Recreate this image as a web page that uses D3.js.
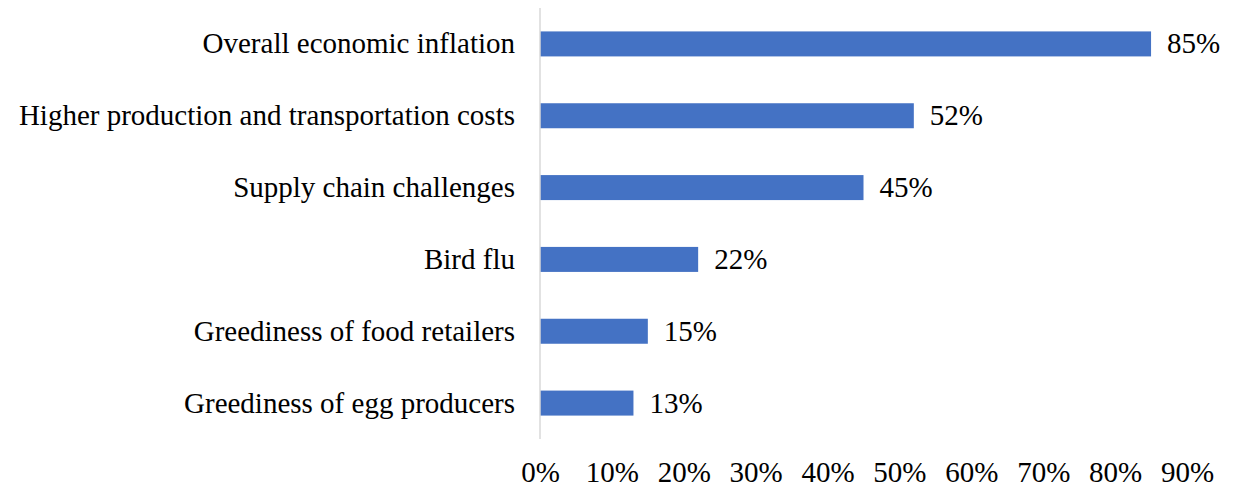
<!DOCTYPE html>
<html><head><meta charset="utf-8">
<script src="https://cdn.jsdelivr.net/npm/d3@7"></script>
<style>body{margin:0;background:#fff}svg{display:block}text{font-family:"Liberation Serif","Times New Roman",serif;fill:#000}</style>
</head><body><svg id="c" width="1233" height="486"></svg>
<script>
const categories = ["Overall economic inflation","Higher production and transportation costs","Supply chain challenges","Bird flu","Greediness of food retailers","Greediness of egg producers"];
const values = [0.85,0.52,0.45,0.22,0.15,0.13];
const ticks = [0,0.1,0.2,0.3,0.4,0.5,0.6,0.7,0.8,0.9];

const svg = d3.select("#c");
const x = d3.scaleLinear().domain([0,0.9]).range([540,1187]);
const y = d3.scaleBand().domain(categories).range([8,439]).paddingInner(0.652).paddingOuter(0.326);
const fmt = d3.format(".0%");
const FS = 29;

svg.selectAll("rect.bar").data(values).join("rect")
  .attr("x", x(0)).attr("y",(d,i)=>y(categories[i]))
  .attr("width", d=>x(d)-x(0)).attr("height", y.bandwidth())
  .attr("fill","#4472C4");

svg.append("line").attr("x1",x(0)).attr("x2",x(0)).attr("y1",8).attr("y2",439)
  .attr("stroke","#d9d9d9").attr("stroke-width",1.5);

svg.selectAll("text.cat").data(categories).join("text")
  .attr("x", x(0)-25).attr("y", d=>y(d)+y.bandwidth()/2)
  .attr("dy","0.33em").attr("text-anchor","end").attr("font-size",FS).text(d=>d);

svg.selectAll("text.val").data(values).join("text")
  .attr("x", d=>x(d)+16).attr("y",(d,i)=>y(categories[i])+y.bandwidth()/2)
  .attr("dy","0.33em").attr("font-size",FS).text(d=>fmt(d));

const ax = d3.axisBottom(x).tickValues(ticks).tickFormat(fmt).tickSize(0).tickPadding(0);
const g = svg.append("g").attr("transform","translate(0,482)").call(ax);
g.select(".domain").remove();
g.selectAll("text").attr("font-size",FS).attr("font-family",null).attr("y",0).attr("dy",0).attr("fill","#000");
</script></body></html>
